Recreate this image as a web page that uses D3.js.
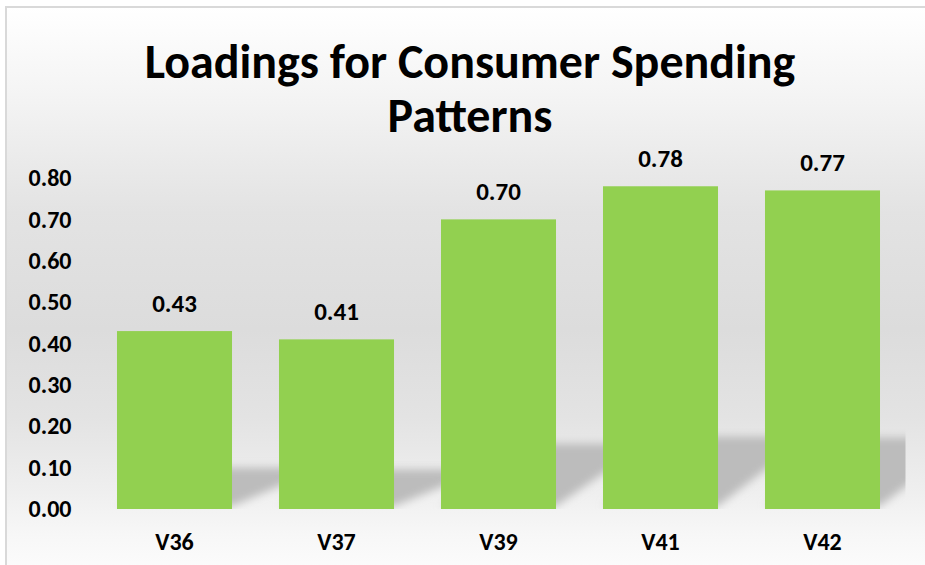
<!DOCTYPE html>
<html>
<head>
<meta charset="utf-8">
<script src="https://cdn.jsdelivr.net/npm/d3@7"></script>
<style>
  body { margin: 0; background: #fff; }
  #chart-container { width: 925px; height: 565px; }
  text { font-family: Carlito, Calibri, Lato, sans-serif; font-weight: bold; fill: #000; }
</style>
</head>
<body>
<div id="chart-container"></div>
<script>
const chartContainer = document.getElementById("chart-container");

const categories = ["V36", "V37", "V39", "V41", "V42"];
const loadings = [0.43, 0.41, 0.70, 0.78, 0.77];
const yTicks = [0, 0.1, 0.2, 0.3, 0.4, 0.5, 0.6, 0.7, 0.8];
const titleLines = ["Loadings for Consumer Spending", "Patterns"];

const width = 925;
const height = 565;
const margin = { top: 178, right: 21.5, bottom: 56, left: 93.5 };
const graphWidth = width - margin.left - margin.right;
const graphHeight = height - margin.top - margin.bottom;

const svg = d3
  .select(chartContainer)
  .append("svg")
  .attr("width", width)
  .attr("height", height);

const defs = svg.append("defs");

// chart area background: white at top and bottom, grey in the middle
const bg = defs
  .append("linearGradient")
  .attr("id", "bg")
  .attr("x1", 0).attr("y1", 0)
  .attr("x2", 0).attr("y2", 1);
[
  [0, "#ffffff"],
  [0.15, "#f4f4f4"],
  [0.35, "#e3e3e3"],
  [0.55, "#dcdcdc"],
  [0.7, "#e3e3e3"],
  [0.83, "#efefef"],
  [0.9, "#f7f7f7"],
  [1, "#ffffff"],
].forEach(([o, c]) => bg.append("stop").attr("offset", o).attr("stop-color", c));

defs
  .append("filter")
  .attr("id", "blur")
  .attr("x", "-20%").attr("y", "-50%")
  .attr("width", "140%").attr("height", "200%")
  .append("feGaussianBlur")
  .attr("stdDeviation", 4);

svg
  .append("rect")
  .attr("x", 6)
  .attr("y", 7)
  .attr("width", width + 20)
  .attr("height", height + 20)
  .attr("fill", "url(#bg)")
  .attr("stroke", "#d9d9d9")
  .attr("stroke-width", 2);

// title
svg
  .append("g")
  .selectAll("text")
  .data(titleLines)
  .enter()
  .append("text")
  .attr("x", 470)
  .attr("y", (d, i) => 78 + i * 54)
  .attr("text-anchor", "middle")
  .style("font-size", "48px")
  .text((d) => d);

const graph = svg
  .append("g")
  .attr("transform", `translate(${margin.left}, ${margin.top})`);

const y = d3.scaleLinear().domain([0, 0.8]).range([graphHeight, 0]);

const x = d3
  .scaleBand()
  .domain(categories)
  .range([0, graphWidth])
  .paddingInner(0.29)
  .paddingOuter(0.145);

const data = categories.map((c, i) => ({ cat: c, value: loadings[i] }));

// perspective floor shadows behind the bars
defs
  .append("clipPath")
  .attr("id", "plotClip")
  .append("rect")
  .attr("x", -20)
  .attr("y", 0)
  .attr("width", graphWidth + 22)
  .attr("height", graphHeight);

const shadowShift = 90;
graph
  .append("g")
  .attr("clip-path", "url(#plotClip)")
  .append("g")
  .attr("filter", "url(#blur)")
  .selectAll("polygon")
  .data(data)
  .enter()
  .append("polygon")
  .attr("fill", "#bcbcbc")
  .attr("points", (d) => {
    const x0 = x(d.cat);
    const x1 = x0 + x.bandwidth();
    const yb = y(0) - 3;
    const h = 0.215 * (y(0) - y(d.value));
    return [
      [x0, yb],
      [x1, yb],
      [x1 + shadowShift, yb - h],
      [x0 + shadowShift, yb - h],
    ].join(" ");
  });

graph
  .selectAll("rect.bar")
  .data(data)
  .enter()
  .append("rect")
  .attr("class", "bar")
  .attr("fill", "#92d050")
  .attr("x", (d) => x(d.cat))
  .attr("y", (d) => y(d.value))
  .attr("width", x.bandwidth())
  .attr("height", (d) => graphHeight - y(d.value));

graph
  .selectAll("text.label")
  .data(data)
  .enter()
  .append("text")
  .attr("class", "label")
  .attr("x", (d) => x(d.cat) + x.bandwidth() / 2)
  .attr("y", (d) => y(d.value) - 19)
  .attr("text-anchor", "middle")
  .style("font-size", "25px")
  .text((d) => d.value.toFixed(2));

const yAxis = d3
  .axisLeft(y)
  .tickValues(yTicks)
  .tickSize(0)
  .tickPadding(22)
  .tickFormat(d3.format(".2f"));

const xAxis = d3.axisBottom(x).tickSize(0).tickPadding(24);

const gYAxis = graph.append("g").call(yAxis);
const gXAxis = graph
  .append("g")
  .attr("transform", `translate(0, ${graphHeight})`)
  .call(xAxis);

[gXAxis, gYAxis].forEach((g) => {
  g.select(".domain").remove();
  g.selectAll("text")
    .attr("fill", "#000")
    .style("font-size", "24px")
    .style("font-family", "Carlito, Calibri, Lato, sans-serif")
    .style("font-weight", "bold");
});
</script>
</body>
</html>
